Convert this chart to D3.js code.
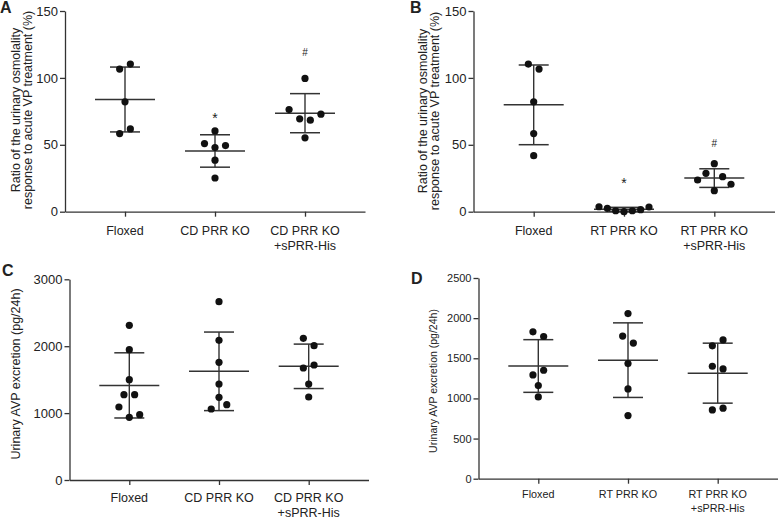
<!DOCTYPE html>
<html><head><meta charset="utf-8">
<script src="https://cdn.jsdelivr.net/npm/d3@7"></script>
<style>
body{margin:0;background:#fff}
svg{display:block}
text{font-family:"Liberation Sans",Arial,Helvetica,sans-serif;fill:#222}
</style>
</head><body>
<svg id="chart" width="779" height="519"></svg>
<script>
// ---------------- DATA ----------------
// Panel A: ratio of urinary osmolality response (%)
const categoriesA = [["Floxed"], ["CD PRR KO"], ["CD PRR KO", "+sPRR-His"]];
const floxedA     = [106.6, 110.3, 82.1, 58.4, 61.9];
const cdKoA       = [60.4, 50.9, 47.9, 49.4, 38.5, 25.2];
const cdKoSprrA   = [76.3, 69.4, 68.4, 72.9, 99.6, 55.2];
const marksA      = ["", "*", "#"];
const markLevelsA = [null, 72, 119];
const ticksA      = [0, 50, 100, 150];

// Panel B
const categoriesB = [["Floxed"], ["RT PRR KO"], ["RT PRR KO", "+sPRR-His"]];
const floxedB     = [110.3, 106.6, 82.1, 58.4, 41.9];
const rtKoB       = [3.7, 2.5, 0.7, 0, 0.7, 1.5, 3.5];
const rtKoSprrB   = [35.9, 23.7, 28.7, 15.7, 26.2, 20.5];
const marksB      = ["", "*", "#"];
const markLevelsB = [null, 24, 51];
const ticksB      = [0, 50, 100, 150];

// Panel C: urinary AVP excretion (pg/24h)
const categoriesC = [["Floxed"], ["CD PRR KO"], ["CD PRR KO", "+sPRR-His"]];
const floxedC     = [2312, 1948, 1499, 1275, 1275, 1091, 937, 976];
const cdKoC       = [2665, 2088, 1759, 1435, 1061, 1236, 1126];
const cdKoSprrC   = [2118, 2008, 1674, 1719, 1435, 1241];
const ticksC      = [0, 1000, 2000, 3000];

// Panel D
const categoriesD = [["Floxed"], ["RT PRR KO"], ["RT PRR KO", "+sPRR-His"]];
const floxedD     = [1829, 1771, 1293, 1351, 1160, 1019];
const rtKoD       = [2057, 1776, 1689, 1434, 1118, 786];
const rtKoSprrD   = [1655, 1729, 1401, 1368, 857, 878];
const ticksD      = [0, 500, 1000, 1500, 2000, 2500];

const yLabelAB = ["Ratio of the urinary osmolality", "response to acute VP treatment (%)"];
const yLabelCD = ["Urinary AVP excretion (pg/24h)"];

// ---------------- DRAWING ----------------
const svg = d3.select("#chart");
const INK = "#222";
const LINE = "#333";

function layoutDots(vals, y, cx) {
  const GAP = 8, SP = 10.7, MAXW = 50;
  const pts = vals.map((v, i) => ({v, i, py: y(v)}));
  const sorted = pts.slice().sort((a, b) => a.py - b.py);
  const clusters = [];
  let cur = [sorted[0]];
  for (let k = 1; k < sorted.length; k++) {
    if (sorted[k].py - sorted[k - 1].py < GAP) cur.push(sorted[k]);
    else { clusters.push(cur); cur = [sorted[k]]; }
  }
  clusters.push(cur);
  clusters.forEach(c => {
    c.sort((a, b) => a.i - b.i);
    const n = c.length;
    let s = 0;
    if (n === 2) s = SP;
    else if (n > 2) {
      for (let i = 0; i < n; i++) for (let j = i + 1; j < n; j++) {
        const dy = Math.abs(c[i].py - c[j].py);
        s = Math.max(s, Math.sqrt(Math.max(0, SP * SP - dy * dy)) / (j - i));
      }
      s = Math.min(s, MAXW / (n - 1));
    }
    c.forEach((p, k) => { p.px = cx + (k - (n - 1) / 2) * s; });
  });
  return pts;
}

function drawPanel(cfg) {
  const g = svg.append("g");
  const y = d3.scaleLinear().domain([0, d3.max(cfg.ticks)]).range([cfg.yBottom, cfg.yTop]);
  const x = d3.scalePoint().domain(d3.range(cfg.groups.length))
    .range([cfg.xLeft, cfg.xLeft + cfg.width]).padding(2 / 3);

  // y axis
  const ya = g.append("g").attr("transform", `translate(${cfg.xLeft},0)`)
    .call(d3.axisLeft(y).tickValues(cfg.ticks).tickSize(5).tickSizeOuter(0).tickPadding(2).tickFormat(d3.format("d")));
  ya.selectAll("path,line").attr("stroke", LINE).attr("stroke-width", 1.3);
  ya.selectAll("text").attr("font-size", cfg.tickFont).attr("fill", INK)
    .style("font-family", '"Liberation Sans",Arial,sans-serif');

  // x axis
  const xa = g.append("g").attr("transform", `translate(0,${cfg.yBottom})`)
    .call(d3.axisBottom(x).tickSize(5).tickSizeOuter(0).tickFormat(""));
  xa.selectAll("path,line").attr("stroke", LINE).attr("stroke-width", 1.3);

  // category labels
  cfg.categories.forEach((lines, i) => {
    const t = g.append("text").attr("text-anchor", "middle").attr("font-size", cfg.catFont)
      .attr("x", x(i)).attr("y", cfg.yBottom + cfg.catOffset);
    lines.forEach((ln, k) => t.append("tspan").attr("x", x(i)).attr("dy", k === 0 ? 0 : cfg.catLine).text(ln));
  });

  // y label
  cfg.yLabel.forEach((ln, k) => {
    g.append("text").attr("text-anchor", "middle").attr("dominant-baseline", "central")
      .attr("font-size", cfg.labelFont)
      .attr("transform", `translate(${cfg.labelX[k]},${cfg.labelY}) rotate(-90)`)
      .text(ln);
  });

  // panel letter
  g.append("text").attr("x", cfg.letterX).attr("y", cfg.letterY)
    .attr("font-size", 16).attr("font-weight", "bold").attr("fill", "#000").text(cfg.letter);

  // groups
  cfg.groups.forEach((vals, i) => {
    const cx = x(i);
    const m = d3.mean(vals), sd = d3.deviation(vals);
    const gg = g.append("g");
    gg.append("line").attr("x1", cx).attr("x2", cx).attr("y1", y(m + sd)).attr("y2", y(m - sd))
      .attr("stroke", LINE).attr("stroke-width", 1.4);
    [m + sd, m - sd].forEach(v => gg.append("line").attr("x1", cx - 15).attr("x2", cx + 15)
      .attr("y1", y(v)).attr("y2", y(v)).attr("stroke", LINE).attr("stroke-width", 1.5));
    gg.append("line").attr("x1", cx - 30).attr("x2", cx + 30).attr("y1", y(m)).attr("y2", y(m))
      .attr("stroke", LINE).attr("stroke-width", 1.5);
    const pts = layoutDots(vals, y, cx);
    gg.selectAll("circle").data(pts).join("circle")
      .attr("cx", d => d.px).attr("cy", d => d.py).attr("r", 3.6).attr("fill", "#111");
    if (cfg.marks && cfg.marks[i]) {
      gg.append("text").attr("x", cx).attr("y", y(cfg.markLevels[i]))
        .attr("text-anchor", "middle").attr("dominant-baseline", "central")
        .attr("font-size", cfg.marks[i] === "*" ? 14 : 10).attr("dy", cfg.marks[i] === "*" ? 3 : 0)
        .text(cfg.marks[i]);
    }
  });
}

drawPanel({
  letter: "A", letterX: 0, letterY: 13,
  groups: [floxedA, cdKoA, cdKoSprrA], categories: categoriesA, ticks: ticksA,
  marks: marksA, markLevels: markLevelsA,
  xLeft: 65, width: 300, yTop: 11, yBottom: 211.7,
  tickFont: 13, catFont: 12.5, catOffset: 23, catLine: 15.5,
  yLabel: yLabelAB, labelFont: 12.5, labelX: [15.5, 28], labelY: 110
});
drawPanel({
  letter: "B", letterX: 410, letterY: 13,
  groups: [floxedB, rtKoB, rtKoSprrB], categories: categoriesB, ticks: ticksB,
  marks: marksB, markLevels: markLevelsB,
  xLeft: 473.5, width: 301, yTop: 11, yBottom: 211.7,
  tickFont: 13, catFont: 12.5, catOffset: 23, catLine: 15.5,
  yLabel: yLabelAB, labelFont: 12.5, labelX: [422.5, 434.5], labelY: 111
});
drawPanel({
  letter: "C", letterX: 2, letterY: 276,
  groups: [floxedC, cdKoC, cdKoSprrC], categories: categoriesC, ticks: ticksC,
  xLeft: 69.5, width: 299, yTop: 279.3, yBottom: 480,
  tickFont: 13, catFont: 12.5, catOffset: 22, catLine: 14.5,
  yLabel: yLabelCD, labelFont: 12.5, labelX: [16], labelY: 374
});
drawPanel({
  letter: "D", letterX: 411, letterY: 284,
  groups: [floxedD, rtKoD, rtKoSprrD], categories: categoriesD, ticks: ticksD,
  xLeft: 478.5, width: 299, yTop: 278, yBottom: 478.7,
  tickFont: 11, catFont: 10.8, catOffset: 19, catLine: 14,
  yLabel: yLabelCD, labelFont: 10.5, labelX: [433], labelY: 381
});
</script>
</body></html>
